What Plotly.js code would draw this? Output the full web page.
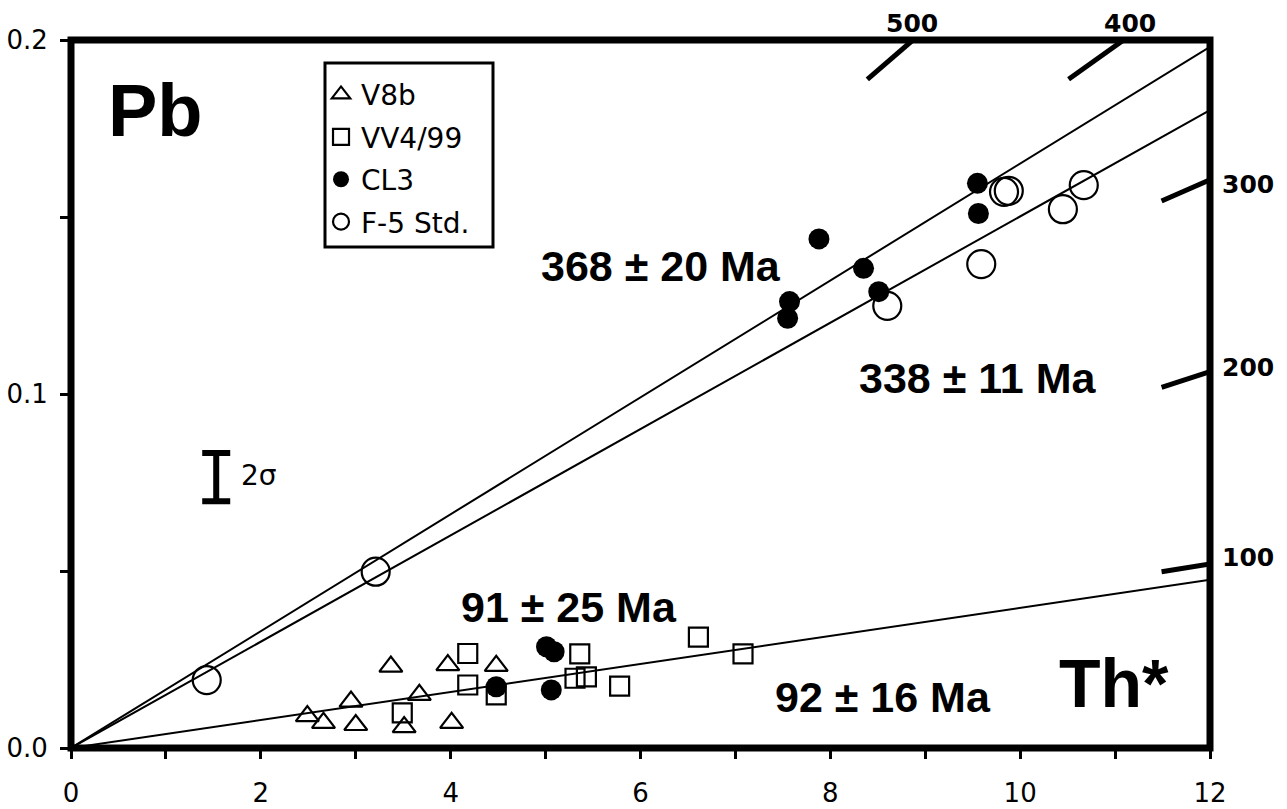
<!DOCTYPE html>
<html>
<head>
<meta charset="utf-8">
<script src="https://cdn.plot.ly/plotly-3.0.1.min.js"></script>
<style>html,body{margin:0;padding:0;background:#fff;}#chart{width:1287px;height:809px;}</style>
</head>
<body>
<div id="chart"></div>
<script>
// ---- data (Th* in x, Pb in y) ----
const v8bX = [2.49, 2.66, 2.95, 3.00, 3.37, 3.51, 3.67, 3.97, 4.01, 4.48];
const v8bY = [0.0090, 0.0071, 0.0131, 0.0065, 0.0230, 0.0059, 0.0150, 0.0234, 0.0071, 0.0232];
const vv4X = [3.49, 4.18, 4.18, 4.48, 5.31, 5.36, 5.43, 5.78, 6.61, 7.08];
const vv4Y = [0.0099, 0.0267, 0.0178, 0.0150, 0.0197, 0.0266, 0.0201, 0.0175, 0.0313, 0.0266];
const cl3X = [4.48, 5.01, 5.06, 5.09, 7.55, 7.57, 7.88, 8.35, 8.51, 9.55, 9.56];
const cl3Y = [0.0173, 0.0286, 0.0164, 0.0272, 0.1214, 0.1261, 0.1438, 0.1355, 0.1289, 0.1595, 0.1510];
const f5X = [1.43, 3.21, 8.60, 9.59, 9.83, 9.88, 10.45, 10.67];
const f5Y = [0.0192, 0.0498, 0.1249, 0.1367, 0.1571, 0.1574, 0.1522, 0.1590];

// isochron fits
const isoX = [0, 12];
const iso368Y = [0, 0.1981];
const iso338Y = [0, 0.1802];
const iso92Y = [0, 0.0475];

// reference age marks
const age500X = [8.39, 8.87],  age500Y = [0.1889, 0.2000];
const age400X = [10.51, 11.09], age400Y = [0.1889, 0.2000];
const age300X = [11.49, 12.0], age300Y = [0.1545, 0.1605];
const age200X = [11.49, 12.0], age200Y = [0.1019, 0.1063];
const age100X = [11.49, 12.0], age100Y = [0.0498, 0.0520];

// 2 sigma error scale
const sigX = [1.53], sigY = [0.0765], sigErr = [0.0068];

// axis ranges
const xRange = [0, 12], yRange = [0, 0.2];

const seriesNames = ['V8b', 'VV4/99', 'CL3', 'F-5 Std.'];
const ageLabels = ['500', '400', '300', '200', '100'];
const fitLabels = ['368 ± 20 Ma', '338 ± 11 Ma', '91 ± 25 Ma', '92 ± 16 Ma'];

// ---- traces ----
const lineStyle = {color: 'black', width: 2};
const ageStyle = {color: 'black', width: 5};
const traces = [
  {x: isoX, y: iso368Y, mode: 'lines', line: lineStyle, showlegend: false, hoverinfo: 'skip'},
  {x: isoX, y: iso338Y, mode: 'lines', line: lineStyle, showlegend: false, hoverinfo: 'skip'},
  {x: isoX, y: iso92Y, mode: 'lines', line: lineStyle, showlegend: false, hoverinfo: 'skip'},
  {x: age500X, y: age500Y, mode: 'lines', line: ageStyle, showlegend: false, hoverinfo: 'skip'},
  {x: age400X, y: age400Y, mode: 'lines', line: ageStyle, showlegend: false, hoverinfo: 'skip'},
  {x: age300X, y: age300Y, mode: 'lines', line: ageStyle, showlegend: false, hoverinfo: 'skip'},
  {x: age200X, y: age200Y, mode: 'lines', line: ageStyle, showlegend: false, hoverinfo: 'skip'},
  {x: age100X, y: age100Y, mode: 'lines', line: ageStyle, showlegend: false, hoverinfo: 'skip'},
  {x: sigX, y: sigY, mode: 'markers', marker: {opacity: 0, size: 2}, showlegend: false, hoverinfo: 'skip',
   error_y: {type: 'data', array: sigErr, visible: true, color: 'black', thickness: 6, width: 14}},
  {x: v8bX, y: v8bY, name: seriesNames[0], legendgroup: 'a', mode: 'markers',
   marker: {symbol: 'triangle-up-open', size: 20, color: 'black', line: {width: 2.2, color: 'black'}}},
  {x: vv4X, y: vv4Y, name: seriesNames[1], legendgroup: 'b', mode: 'markers',
   marker: {symbol: 'square-open', size: 19, color: 'black', line: {width: 2.2, color: 'black'}}},
  {x: cl3X, y: cl3Y, name: seriesNames[2], legendgroup: 'c', mode: 'markers',
   marker: {symbol: 'circle', size: 21, color: 'black', line: {width: 0}}},
  {x: f5X, y: f5Y, name: seriesNames[3], legendgroup: 'd', mode: 'markers',
   marker: {symbol: 'circle-open', size: 28, color: 'black', line: {width: 2.2, color: 'black'}}}
];

const FONT = 'Liberation Sans, Arial, Helvetica, sans-serif';
const WIDE = 'DejaVu Sans, Verdana, sans-serif';
const bold = (size, fam) => ({family: fam || FONT, size: size, color: 'black', weight: 'bold'});
const txt = (x, y, text, font, xref, extra) => Object.assign(
  {xref: xref || 'x', yref: xref === 'paper' ? 'paper' : 'y', x: x, y: y, text: text,
   showarrow: false, xanchor: 'center', yanchor: 'middle', font: font}, extra || {});

const annotations = [
  txt(0.895, 0.180, '<b>Pb</b>', bold(74)),
  txt(10.99, 0.0184, '<b>Th*</b>', bold(68)),
  txt(6.22, 0.1362, '<b>' + fitLabels[0] + '</b>', bold(43)),
  txt(9.55, 0.1045, '<b>' + fitLabels[1] + '</b>', bold(43)),
  txt(5.25, 0.0398, '<b>' + fitLabels[2] + '</b>', bold(43)),
  txt(8.55, 0.0144, '<b>' + fitLabels[3] + '</b>', bold(43)),
  txt(1.77, 0.0771, '2σ', {family: WIDE, size: 28, color: 'black'}, 'x', {xanchor: 'left'}),
  txt(0.7384, 1.0226, '<b>' + ageLabels[0] + '</b>', bold(25, WIDE), 'paper'),
  txt(0.9298, 1.0226, '<b>' + ageLabels[1] + '</b>', bold(25, WIDE), 'paper'),
  txt(1.0334, 0.7966, '<b>' + ageLabels[2] + '</b>', bold(25, WIDE), 'paper'),
  txt(1.0334, 0.5381, '<b>' + ageLabels[3] + '</b>', bold(25, WIDE), 'paper'),
  txt(1.0334, 0.2684, '<b>' + ageLabels[4] + '</b>', bold(25, WIDE), 'paper')
];

const tickCommon = {ticks: 'outside', ticklen: 10, tickwidth: 3, tickcolor: 'black'};

const layout = {
  width: 1287, height: 809,
  margin: {l: 71, r: 77, t: 40, b: 61, pad: 0},
  paper_bgcolor: 'white', plot_bgcolor: 'white',
  font: {family: WIDE, size: 26, color: 'black'},
  showlegend: true,
  legend: {x: 0.2195, y: 0.958, xanchor: 'left', yanchor: 'top', bgcolor: 'rgba(0,0,0,0)',
           borderwidth: 0, font: {family: WIDE, size: 28, color: 'black'},
           tracegroupgap: 3},
  xaxis: Object.assign({range: xRange, dtick: 2, tick0: 0, showgrid: false, zeroline: false,
          showline: false, ticklabelstandoff: 12,
          tickfont: {family: WIDE, size: 26, color: 'black'},
          minor: Object.assign({dtick: 1, showgrid: false}, tickCommon)}, tickCommon),
  yaxis: Object.assign({range: yRange, dtick: 0.1, tick0: 0, tickformat: '.1f', showgrid: false, zeroline: false,
          showline: false, ticklabelstandoff: 7,
          tickfont: {family: WIDE, size: 26, color: 'black'},
          minor: Object.assign({dtick: 0.05, showgrid: false}, tickCommon)}, tickCommon),
  shapes: [
    // plot frame centred on the plot-area edges
    {type: 'rect', xref: 'paper', yref: 'paper', x0: 0, x1: 1, y0: 0, y1: 1,
     line: {color: 'black', width: 7}, fillcolor: 'rgba(0,0,0,0)', layer: 'above'},
    // legend box
    {type: 'rect', xref: 'paper', yref: 'paper', x0: 0.2230, x1: 0.3705, y0: 0.7076, y1: 0.9675,
     line: {color: 'black', width: 3}, fillcolor: 'rgba(0,0,0,0)'}
  ],
  annotations: annotations
};

Plotly.newPlot('chart', traces, layout, {displayModeBar: false, staticPlot: true});
</script>
</body>
</html>
